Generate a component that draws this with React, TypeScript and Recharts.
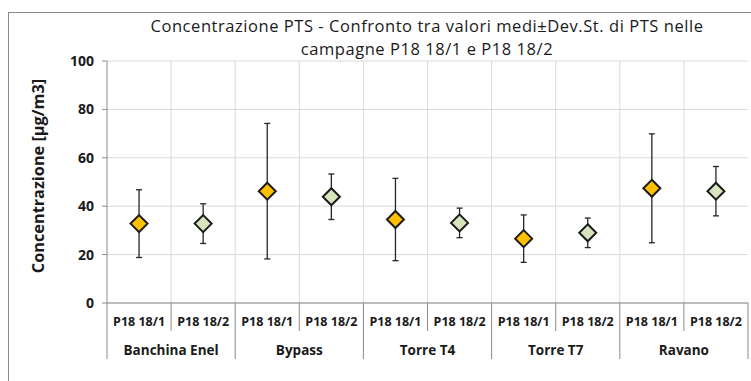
import React from "react";
import { ComposedChart, Scatter, XAxis, YAxis, CartesianGrid, ErrorBar } from "recharts";

const sites = ["Banchina Enel", "Bypass", "Torre T4", "Torre T7", "Ravano"];
const campaigns = ["P18 18/1", "P18 18/2"];
const means1 = [32.8, 46.2, 34.5, 26.6, 47.4];
const sd1 = [14.0, 28.0, 17.0, 9.8, 22.5];
const means2 = [32.8, 43.9, 33.1, 29.0, 46.2];
const sd2 = [8.2, 9.4, 6.1, 6.1, 10.2];
const yTicks = [0, 20, 40, 60, 80, 100];
const campaignColors = ["#FFC000", "#D8E4BC"];

const title1 = "Concentrazione PTS - Confronto tra valori medi\u00b1Dev.St. di PTS nelle";
const title2 = "campagne P18 18/1 e P18 18/2";
const yLabel = "Concentrazione [\u00b5g/m3]";

const data = sites.flatMap((site, i) => [
  { key: `${site}|${campaigns[0]}`, site, campaign: campaigns[0], c: 0, mean: means1[i], sd: sd1[i] },
  { key: `${site}|${campaigns[1]}`, site, campaign: campaigns[1], c: 1, mean: means2[i], sd: sd2[i] },
]);

const W = 751;
const H = 381;
const margin = { top: 61, right: 3, bottom: 18, left: 47 };
const yAxisWidth = 60;
const xAxisHeight = 60;
const plotW = W - margin.left - margin.right - yAxisWidth;
const bandW = plotW / data.length;
const FONT = "'Open Sans', 'Noto Sans', sans-serif";
const TXT = "#1a1a1a";
const AXIS = "#8c8c8c";

const XTick = (props: any) => {
  const { x, y, payload } = props;
  const idx = data.findIndex((d) => d.key === payload.value);
  if (idx < 0) return null;
  const d = data[idx];
  const half = bandW / 2;
  const isGroupStart = d.c === 0;
  const isLast = idx === data.length - 1;
  return (
    <g>
      <text x={x} y={y + 18} textAnchor="middle" dominantBaseline="central" fill={TXT}
        fontFamily={FONT} fontWeight={700} fontSize={12.5}>{d.campaign}</text>
      <line x1={x - half} x2={x - half} y1={y} y2={y + (isGroupStart ? 56 : 28)} stroke={AXIS} strokeWidth={1} />
      {isLast && <line x1={x + half} x2={x + half} y1={y} y2={y + 56} stroke={AXIS} strokeWidth={1} />}
      {isGroupStart && (
        <text x={x + half} y={y + 47} textAnchor="middle" dominantBaseline="central" fill={TXT}
          fontFamily={FONT} fontWeight={700} fontSize={13.5}>{d.site}</text>
      )}
    </g>
  );
};

const Diamond = (props: any) => {
  const { cx, cy, payload } = props;
  if (cx == null || cy == null) return null;
  const r = 8.5;
  const fill = campaignColors[payload?.c ?? 0];
  return (
    <polygon points={`${cx},${cy - r} ${cx + r},${cy} ${cx},${cy + r} ${cx - r},${cy}`}
      fill={fill} stroke="#1a1a1a" strokeWidth={2} />
  );
};

const YLabel = (props: any) => {
  const vb = props.viewBox || { x: 47, y: 61, width: 60, height: 242 };
  const cx = 38;
  const cy = vb.y + vb.height / 2 - 6;
  return (
    <text x={cx} y={cy} transform={`rotate(-90 ${cx} ${cy})`} textAnchor="middle" dominantBaseline="central"
      fill={TXT} fontFamily={FONT} fontWeight={700} fontSize={16.3}>{yLabel}</text>
  );
};

export default function App() {
  return (
    <div style={{ position: "fixed", left: 0, top: 0, width: W, height: H, overflow: "hidden", background: "#fff" }}>
      <div style={{ position: "absolute", left: 8, top: 12, width: 800, height: 400, border: "1px solid #8c8c8c", boxSizing: "border-box" }} />
      <div style={{ position: "absolute", left: 127, top: 15, width: 600, textAlign: "center", fontFamily: FONT, fontSize: 16.5, lineHeight: "22.5px", letterSpacing: "0.55px", color: TXT, whiteSpace: "nowrap" }}>
        <div>{title1}</div>
        <div>{title2}</div>
      </div>
      <div style={{ position: "absolute", left: 0, top: 0 }}>
        <ComposedChart width={W} height={H} data={data} margin={margin}>
          <CartesianGrid stroke="#d9d9d9" strokeWidth={1}
            horizontalValues={yTicks}
            verticalCoordinatesGenerator={({ offset }: any) =>
              data.map((_, i) => offset.left + i * (offset.width / data.length)).slice(1)}
          />
          <XAxis dataKey="key" type="category" scale="band" interval={0} height={xAxisHeight}
            axisLine={{ stroke: AXIS }} tickLine={false} tickSize={0} tickMargin={0} tick={<XTick />} />
          <XAxis xAxisId="top" dataKey="key" type="category" scale="band" orientation="top" height={0} tick={false} tickLine={false}
            axisLine={{ stroke: "#000", strokeWidth: 1.5 }} />
          <YAxis domain={[0, 100]} ticks={yTicks} width={yAxisWidth} interval={0}
            axisLine={{ stroke: AXIS }} tickLine={{ stroke: AXIS }} tickSize={5} tickMargin={8}
            tick={{ fill: TXT, fontFamily: FONT, fontWeight: 700, fontSize: 14 }}
            label={{ content: <YLabel /> }} />
          <YAxis yAxisId="right" orientation="right" domain={[0, 100]} width={0} tick={false} tickLine={false}
            axisLine={{ stroke: "#000", strokeWidth: 1.5 }} />
          <Scatter dataKey="mean" shape={<Diamond />} isAnimationActive={false}>
            <ErrorBar dataKey="sd" direction="y" width={3} stroke="#262626" strokeWidth={1.3} />
          </Scatter>
        </ComposedChart>
      </div>
    </div>
  );
}
